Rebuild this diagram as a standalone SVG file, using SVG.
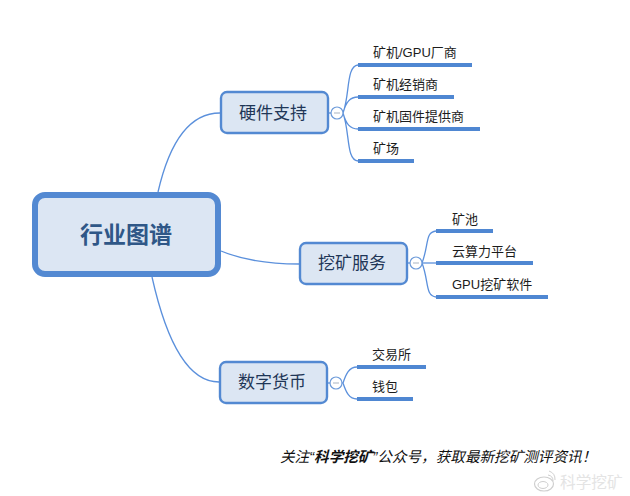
<svg xmlns="http://www.w3.org/2000/svg" width="630" height="496" viewBox="0 0 630 496">
<style>
text{font-family:"Liberation Sans","Noto Sans CJK SC",sans-serif}
.c{fill:none;stroke:#5b90dc;stroke-width:1.3}
.bar{fill:#4f87d2}
.n{fill:#dce6f3;stroke:#5389d2;stroke-width:2.4}
.nt{font-size:17px;fill:#1f3657;text-anchor:middle}
.l{font-size:13px;fill:#1c1c1c}
.col{fill:#fff;stroke:#6d9bda;stroke-width:1.2}
.m{stroke:#a9b4c2;stroke-width:1}
</style>
<rect width="630" height="496" fill="#fff"/>
<g id="connectors">
<path class="c" d="M158 192C170 140 190 113 220 113"/>
<path class="c" d="M221 251C245 261 270 264 299 264"/>
<path class="c" d="M152 277C165 335 185 382 219 382"/>
<path class="c" d="M329 113H343"/>
<path class="c" d="M343 113C350 95 346 66 358 65M343 113C346 102 350 97 358 97M343 113C346 124 350 129 358 129M343 113C350 132 346 160 358 161"/>
<path class="c" d="M408 263H436"/>
<path class="c" d="M422 263C429 245 425 232 436 231M422 263C429 281 425 296 436 297"/>
<path class="c" d="M327 383H343"/>
<path class="c" d="M343 383C346 374 349 367 357 367M343 383C346 392 349 399 357 399"/>
</g>
<g id="root">
<rect x="35" y="195" width="183" height="79" rx="10" fill="#dce6f3" stroke="#5389d2" stroke-width="6"/>
<text x="126" y="243" font-size="23" font-weight="bold" fill="#2f5787" text-anchor="middle">行业图谱</text>
</g>
<g id="n-hardware">
<rect class="n" x="221" y="92" width="107" height="41" rx="6"/>
<text class="nt" x="273" y="119">硬件支持</text>
<circle class="col" cx="337" cy="113" r="6"/><path class="m" d="M334 113H340"/>
</g>
<g id="n-service">
<rect class="n" x="300" y="243" width="107" height="41" rx="6"/>
<text class="nt" x="352" y="269">挖矿服务</text>
<circle class="col" cx="416" cy="263" r="6"/><path class="m" d="M413 263H419"/>
</g>
<g id="n-coin">
<rect class="n" x="220" y="362" width="107" height="41" rx="6"/>
<text class="nt" x="272" y="388">数字货币</text>
<circle class="col" cx="336" cy="383" r="6"/><path class="m" d="M333 383H339"/>
</g>
<g id="h1"><rect class="bar" x="358" y="63" width="114" height="4"/><text class="l" x="373" y="57">矿机/GPU厂商</text></g>
<g id="h2"><rect class="bar" x="358" y="95" width="96" height="4"/><text class="l" x="373" y="89">矿机经销商</text></g>
<g id="h3"><rect class="bar" x="358" y="127" width="122" height="4"/><text class="l" x="373" y="121">矿机固件提供商</text></g>
<g id="h4"><rect class="bar" x="358" y="159" width="56" height="4"/><text class="l" x="373" y="153">矿场</text></g>
<g id="s1"><rect class="bar" x="436" y="229" width="57" height="4"/><text class="l" x="452" y="224">矿池</text></g>
<g id="s2"><rect class="bar" x="436" y="261" width="97" height="4"/><text class="l" x="452" y="256">云算力平台</text></g>
<g id="s3"><rect class="bar" x="436" y="295" width="112" height="4"/><text class="l" x="452" y="289">GPU挖矿软件</text></g>
<g id="c1"><rect class="bar" x="357" y="365" width="69" height="4"/><text class="l" x="372" y="359">交易所</text></g>
<g id="c2"><rect class="bar" x="357" y="397" width="56" height="4"/><text class="l" x="372" y="391">钱包</text></g>
<text x="280" y="462" font-size="14.6" font-style="italic" fill="#111">关注“<tspan font-weight="bold">科学挖矿</tspan>”公众号，获取最新挖矿测评资讯！</text>
<g id="watermark">
<ellipse cx="544" cy="484" rx="9.5" ry="7" fill="#fff" stroke="#cfcfcf" stroke-width="1.2"/>
<ellipse cx="543" cy="485" rx="5" ry="3.5" fill="none" stroke="#cfcfcf" stroke-width="1"/>
<path d="M548 475a6 6 0 0 1 5 6M549 471a9 9 0 0 1 6 9" fill="none" stroke="#cfcfcf" stroke-width="1"/>
<text x="560" y="488" font-size="15.7" fill="#e4e4e4">科学挖矿</text>
</g>
</svg>
